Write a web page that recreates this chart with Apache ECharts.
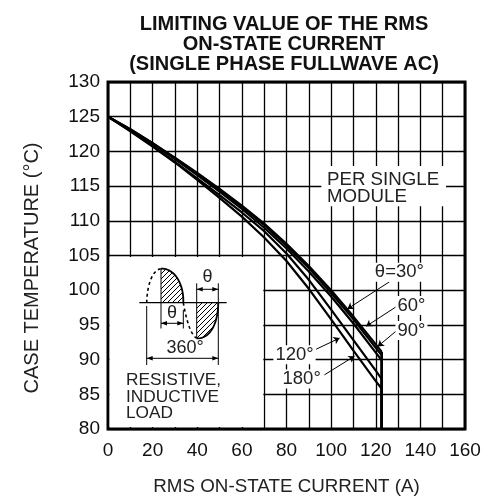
<!DOCTYPE html>
<html><head><meta charset="utf-8">
<script src="https://cdn.jsdelivr.net/npm/echarts@6/dist/echarts.min.js"></script>
<style>html,body{margin:0;padding:0;background:#fff}#c{width:485px;height:501px}</style>
</head><body><div id="c"></div>
<script>
// ---- data ----
const currents = [0, 10, 20, 30, 40, 50, 60, 70, 80, 90, 100, 110, 120, 122.7];
const temp30  = [125, 123.2, 121.2, 119.1, 116.9, 114.6, 112.2, 109.6, 106.7, 103.5, 100.0, 96.2, 92.2, 91.1];
const temp60  = [125, 123.2, 121.2, 119.0, 116.8, 114.5, 112.0, 109.4, 106.4, 103.2, 99.6, 95.8, 91.7, 90.6];
const temp90  = [125, 123.1, 121.1, 118.9, 116.6, 114.2, 111.7, 109.0, 106.0, 102.7, 99.1, 95.2, 91.0, 89.9];
const temp120 = [125, 123.0, 120.8, 118.5, 116.1, 113.7, 111.2, 108.5, 105.3, 101.5, 97.2, 92.8, 88.4, 87.2];
const temp180 = [125, 122.9, 120.7, 118.4, 115.9, 113.3, 110.6, 107.6, 104.2, 100.2, 95.8, 91.3, 86.9, 85.8];
const curveNames = ['θ=30°', '60°', '90°', '120°', '180°'];
const dropBottom = 80;
const xTicks = [0, 20, 40, 60, 80, 100, 120, 140, 160];
const yTicks = [80, 85, 90, 95, 100, 105, 110, 115, 120, 125, 130];
// label anchor points (data units) and leader lines
const labelPos = [[130.6, 102.6], [136.0, 97.8], [136.0, 94.2], [83.6, 90.7], [86.8, 87.2]];
const leaderFrom = [[126.1, 101.2], [129.1, 97.6], [129.1, 94.1], [93.3, 91.5], [97.0, 87.8]];
const leaderTo   = [[107.3, 97.3], [115.7, 94.8], [120.9, 91.9], [103.8, 93.1], [110.5, 90.5]];

const FONT = '"Liberation Sans", Arial, Helvetica, sans-serif';
const INK = '#111';
const all = [temp30, temp60, temp90, temp120, temp180];

const chart = echarts.init(document.getElementById('c'));

// hatch pattern
const pc = document.createElement('canvas');
pc.width = 5; pc.height = 5;
const pctx = pc.getContext('2d');
pctx.strokeStyle = '#000'; pctx.lineWidth = 1;
pctx.beginPath();
pctx.moveTo(0, 5); pctx.lineTo(5, 0);
pctx.moveTo(-1, 1); pctx.lineTo(1, -1);
pctx.moveTo(4, 6); pctx.lineTo(6, 4);
pctx.stroke();
const hatch = {image: pc, repeat: 'repeat'};

function bez(p0, p1, p2, p3, n) {
  const pts = [];
  for (let i = 0; i <= n; i++) {
    const t = i / n, u = 1 - t;
    pts.push([u*u*u*p0[0] + 3*u*u*t*p1[0] + 3*u*t*t*p2[0] + t*t*t*p3[0],
              u*u*u*p0[1] + 3*u*u*t*p1[1] + 3*u*t*t*p2[1] + t*t*t*p3[1]]);
  }
  return pts;
}
function curve(p0, p1, p2, p3, w, dash) {
  return {type: 'polyline', z: 100, shape: {points: bez(p0, p1, p2, p3, 24)},
    style: {fill: null, stroke: '#000', lineWidth: w, lineDash: dash || null}};
}
function arrowHead(x, y, dir) {
  return {type: 'polygon', z: 100, shape: {points: [[x, y], [x - dir * 6, y - 2.2], [x - dir * 6, y + 2.2]]}, style: {fill: '#000'}};
}
function dimLine(x1, x2, y) {
  return [
    {type: 'line', z: 100, shape: {x1: x1, y1: y, x2: x2, y2: y}, style: {stroke: '#000', lineWidth: 1}},
    arrowHead(x1, y, -1), arrowHead(x2, y, 1)
  ];
}
function vline(x, y1, y2, w) {
  return {type: 'line', z: 100, shape: {x1: x, y1: y1, x2: x, y2: y2}, style: {stroke: '#000', lineWidth: w || 1}};
}

const posLobe = [[161, 268.7], [175, 268], [184, 285], [183.3, 302.7]];
const negLobe = [[196.7, 338.3], [211, 339], [218, 322], [218.3, 302.7]];

const graphics = [
  {type: 'text', z: 100, x: 32, y: 268, rotation: Math.PI / 2,
   style: {text: 'CASE TEMPERATURE (°C)', x: 0, y: 0, align: 'center', verticalAlign: 'middle', font: '20px ' + FONT, fill: '#222'}},
  {type: 'text', z: 100, x: 327, y: 172,
   style: {text: 'PER SINGLE\nMODULE', align: 'left', verticalAlign: 'top', font: '18.7px ' + FONT, lineHeight: 16.6, fill: '#222'}},
  {type: 'text', z: 100, x: 126, y: 372,
   style: {text: 'RESISTIVE,\nINDUCTIVE\nLOAD', align: 'left', verticalAlign: 'top', font: '17.3px ' + FONT, lineHeight: 16.5, fill: '#222'}},
  {type: 'line', z: 100, shape: {x1: 139.3, y1: 302.7, x2: 226.7, y2: 302.7}, style: {stroke: '#000', lineWidth: 1.3}},
  {type: 'polygon', z: 99, shape: {points: bez(...posLobe, 24).concat([[161, 302.7]])}, style: {fill: hatch, stroke: null}},
  curve(...posLobe, 1.8),
  curve([146.7, 302.7], [147, 286], [152, 270], [161, 268.7], 1.6, [3, 3]),
  {type: 'polygon', z: 99, shape: {points: [[196.7, 302.7]].concat(bez(...negLobe, 24))}, style: {fill: hatch, stroke: null}},
  curve(...negLobe, 1.8),
  curve([183.3, 302.7], [186, 318], [190, 334], [196.7, 338.3], 1.6, [3, 3]),
  vline(161, 268.7, 328.5), vline(196.7, 283.3, 338.3), vline(218.3, 283.3, 365), vline(146.7, 306, 365), vline(183.3, 310, 328.5),
  ...dimLine(161, 183.3, 323.3),
  ...dimLine(196.7, 218.3, 289.3),
  ...dimLine(146.7, 218.3, 358.3),
  {type: 'text', z: 100, x: 172, y: 313.5, style: {text: 'θ', align: 'center', verticalAlign: 'middle', font: '18px ' + FONT, fill: '#222'}},
  {type: 'text', z: 100, x: 207.5, y: 277.5, style: {text: 'θ', align: 'center', verticalAlign: 'middle', font: '18px ' + FONT, fill: '#222'}},
  {type: 'text', z: 100, x: 185, y: 348.5, style: {text: '360°', align: 'center', verticalAlign: 'middle', font: '18px ' + FONT, fill: '#222'}}
];

const series = all.map((arr, k) => ({
  name: curveNames[k], type: 'line', symbol: 'none', z: 5,
  lineStyle: {color: '#000', width: 2.2},
  data: currents.map((x, i) => [x, arr[i]])
}));
all.forEach((arr, k) => {
  const n = currents.length - 1;
  series.push({type: 'line', symbol: 'none', z: 5, lineStyle: {color: '#000', width: 2.4},
    data: [[currents[n], arr[n]], [currents[n], dropBottom]]});
});
series.push({
  type: 'line', data: [], z: 4,
  markArea: {silent: true, itemStyle: {color: '#fff', opacity: 1},
    data: [[{coord: [0.7, 80.3]}, {coord: [69.6, 104.8]}], [{coord: [95.6, 112.1]}, {coord: [151.5, 117.9]}]]},
  markLine: {silent: true, symbol: ['none', 'arrow'], symbolSize: 6, label: {show: false},
    lineStyle: {color: '#000', width: 1, type: 'solid'},
    data: leaderFrom.map((p, i) => [{coord: p}, {coord: leaderTo[i]}])},
  markPoint: {silent: true, symbol: 'circle', symbolSize: 0,
    label: {show: true, position: 'inside', color: '#222', fontSize: 18.5, fontFamily: FONT, backgroundColor: '#fff', padding: [0, 2]},
    data: labelPos.map((p, i) => ({coord: p, value: curveNames[i], label: {formatter: curveNames[i]}}))}
});

chart.setOption({
  animation: false,
  backgroundColor: '#fff',
  title: {text: 'LIMITING VALUE OF THE RMS\nON-STATE CURRENT\n(SINGLE PHASE FULLWAVE AC)', left: 279, top: 9, textAlign: 'center',
    textStyle: {fontFamily: FONT, fontSize: 20, fontWeight: 'bold', lineHeight: 20, color: '#111'}},
  grid: {left: 108, right: 20, top: 82, bottom: 67, show: true, borderColor: '#000', borderWidth: 3},
  xAxis: {type: 'value', min: xTicks[0], max: xTicks[xTicks.length - 1], interval: xTicks[1] - xTicks[0],
    axisLine: {show: false}, axisTick: {show: false},
    splitLine: {show: true, lineStyle: {color: '#000', width: 1.3}},
    minorTick: {show: false, splitNumber: 2},
    minorSplitLine: {show: true, lineStyle: {color: '#000', width: 1.3}},
    axisLabel: {fontSize: 19, color: INK, margin: 12, fontFamily: FONT},
    name: 'RMS ON-STATE CURRENT (A)', nameLocation: 'middle', nameGap: 48,
    nameTextStyle: {fontSize: 18.8, color: '#222', fontFamily: FONT}},
  yAxis: {type: 'value', min: yTicks[0], max: yTicks[yTicks.length - 1], interval: yTicks[1] - yTicks[0],
    axisLine: {show: false}, axisTick: {show: false},
    splitLine: {show: true, lineStyle: {color: '#000', width: 1.3}},
    axisLabel: {fontSize: 19, color: INK, margin: 8, fontFamily: FONT}},
  graphic: graphics,
  series: series
});
</script></body></html>
